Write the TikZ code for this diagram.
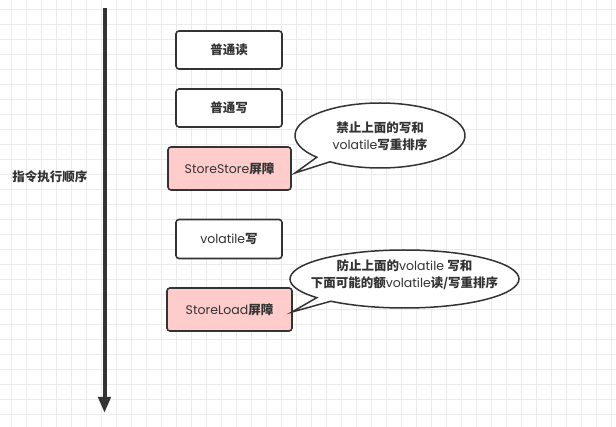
\documentclass[tikz,border=0pt]{standalone}
\usepackage{fontspec}
\setmainfont{Poppins}
\newfontfamily\cjk{Noto Sans CJK SC}
\usetikzlibrary{arrows.meta}
\newcommand{\zh}[1]{{\cjk\bfseries #1}}
\definecolor{ink}{HTML}{333333}
\definecolor{gridc}{HTML}{EBEBEB}
\definecolor{pinkfill}{HTML}{FFCCCC}
\begin{document}
\begin{tikzpicture}[x=1pt,y=-1pt,
  gridline/.style={draw=gridc,line width=0.9pt},
  txt/.style={text=ink,font=\fontsize{12.5}{17}\selectfont,align=center,inner sep=0pt},
  box/.style={txt,draw=ink,line width=1.6pt,rounded corners=3pt,fill=white,minimum width=106pt,minimum height=38pt},
  barrier/.style={box,fill=pinkfill,minimum width=123pt,minimum height=43pt},
  bubble/.style={draw=ink,line width=1.5pt,fill=white,line join=miter},
  flow/.style={draw=ink,line width=4pt,-{Triangle[length=16pt,width=12pt]}}]
\useasboundingbox (0,0) rectangle (616,427);
\fill[white] (0,0) rectangle (616,427);
\foreach \k in {0,...,40} \draw[gridline] ({11.7+15*\k},0) -- ++(0,427);
\foreach \k in {0,...,27} \draw[gridline] (0,{9.3+15*\k}) -- ++(616,0);

% time arrow
\coordinate (atop) at (104.5,8);
\coordinate (abot) at (104.5,413);
\draw[flow] (atop) -- (abot);
\node[txt] (order) at (50,177) {\zh{指令执行顺序}};

% boxes
\node[box] (r) at (229,50) {\zh{普通读}};
\node[box] (w) at (229,108) {\zh{普通写}};
\node[barrier] (ss) at (229.5,168.5) {StoreStore\zh{屏障}};
\node[box,minimum height=39pt] (vw) at (229,239) {volatile\zh{写}};
\node[barrier,minimum width=125pt] (sl) at (229.5,309.5) {StoreLoad\zh{屏障}};

% bubble 1
\coordinate (t1) at (295,173);
\draw[bubble] (t1) -- ({380+85*cos(138)},{135.5+32.5*sin(138)})
  arc[start angle=138,end angle=486,x radius=85,y radius=32.5] -- cycle;
\node[txt] (b1) at (380,136) {\zh{禁止上面的写和}\\volatile\zh{写重排序}};

% bubble 2
\coordinate (t2) at (292,312);
\draw[bubble] (t2) -- ({404.5+114.5*cos(140)},{279+29*sin(140)})
  arc[start angle=140,end angle=490,x radius=114.5,y radius=29] -- cycle;
\node[txt] (b2) at (404.5,275) {\zh{防止上面的}volatile \zh{写和}\\\zh{下面可能的额}volatile\zh{读/写重排序}};
\end{tikzpicture}
\end{document}
